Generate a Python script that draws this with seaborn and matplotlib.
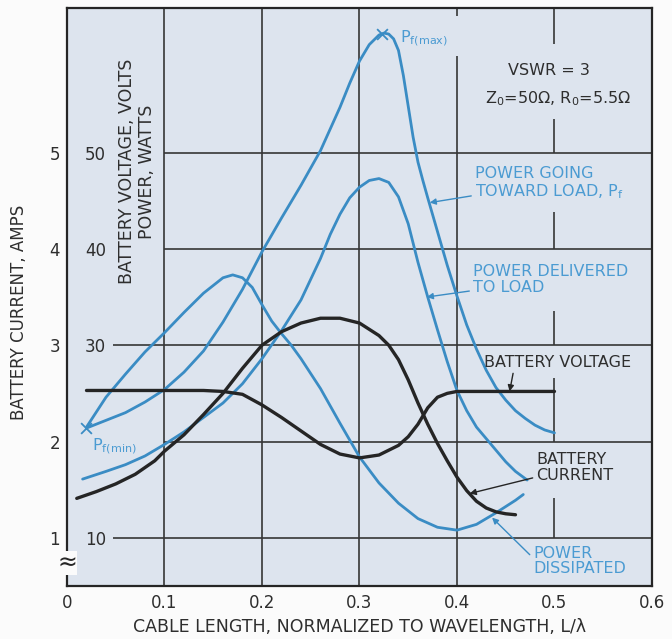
import numpy as np
import pandas as pd
import matplotlib
matplotlib.use("Agg")
import matplotlib.pyplot as plt
import seaborn as sns

# values (x = cable length L/lambda, y = volts / watts)
pf_x = [0.02, 0.04, 0.06, 0.08, 0.10, 0.12, 0.14, 0.16, 0.18, 0.20, 0.22, 0.24, 0.26,
        0.28, 0.29, 0.30, 0.31, 0.32, 0.325, 0.33, 0.335, 0.34, 0.345, 0.35, 0.355,
        0.36, 0.365, 0.37, 0.38, 0.39, 0.40, 0.41, 0.42, 0.43, 0.44, 0.45, 0.46, 0.47,
        0.48, 0.49, 0.50]
pf_y = [21.4, 22.2, 23.0, 24.1, 25.4, 27.2, 29.4, 32.4, 35.8, 39.7, 43.2, 46.6, 50.2,
        54.7, 57.2, 59.5, 61.2, 62.2, 62.4, 62.3, 61.8, 60.6, 58.0, 54.8, 51.6,
        49.0, 47.1, 45.3, 41.8, 38.3, 35.1, 32.1, 29.6, 27.4, 25.6, 24.3, 23.2, 22.4,
        21.7, 21.2, 20.9]

delivered_x = [0.016, 0.04, 0.06, 0.08, 0.10, 0.12, 0.14, 0.16, 0.18, 0.20, 0.22, 0.24,
               0.26, 0.27, 0.28, 0.29, 0.30, 0.31, 0.32, 0.33, 0.34, 0.35, 0.36, 0.37,
               0.38, 0.39, 0.40, 0.41, 0.42, 0.43, 0.44, 0.45, 0.46, 0.472]
delivered_y = [16.1, 16.9, 17.6, 18.5, 19.7, 21.0, 22.5, 24.0, 26.0, 28.6, 31.5, 34.7,
               39.0, 41.5, 43.6, 45.3, 46.4, 47.1, 47.3, 46.9, 45.4, 42.6, 38.6, 35.0,
               31.6, 28.3, 25.3, 23.2, 21.5, 20.3, 19.1, 17.9, 16.9, 16.0]

dissipated_x = [0.02, 0.04, 0.06, 0.08, 0.10, 0.12, 0.14, 0.16, 0.17, 0.18, 0.19, 0.20,
                0.21, 0.22, 0.23, 0.24, 0.26, 0.28, 0.30, 0.32, 0.34, 0.36, 0.38, 0.40,
                0.42, 0.44, 0.46, 0.468]
dissipated_y = [21.5, 24.6, 27.0, 29.3, 31.3, 33.4, 35.4, 37.0, 37.3, 37.0, 36.0, 34.2,
                32.5, 31.2, 30.0, 28.6, 25.5, 21.9, 18.4, 15.7, 13.6, 12.0, 11.1, 10.8,
                11.4, 12.6, 13.9, 14.5]

voltage_x = [0.02, 0.05, 0.10, 0.14, 0.16, 0.18, 0.20, 0.22, 0.24, 0.26, 0.28, 0.30,
             0.32, 0.34, 0.35, 0.36, 0.37, 0.38, 0.39, 0.40, 0.45, 0.50]
voltage_y = [25.3, 25.3, 25.3, 25.3, 25.2, 24.9, 23.8, 22.5, 21.1, 19.7, 18.7, 18.3,
             18.6, 19.6, 20.5, 21.8, 23.5, 24.6, 25.0, 25.2, 25.2, 25.2]

current_x = [0.01, 0.03, 0.05, 0.07, 0.09, 0.10, 0.12, 0.14, 0.16, 0.18, 0.20, 0.22,
             0.24, 0.26, 0.28, 0.30, 0.32, 0.33, 0.34, 0.35, 0.36, 0.37, 0.38, 0.39,
             0.40, 0.41, 0.42, 0.43, 0.44, 0.45, 0.46]
current_y = [14.1, 14.8, 15.6, 16.6, 18.0, 19.0, 20.7, 22.8, 25.0, 27.6, 30.0, 31.4,
             32.3, 32.8, 32.8, 32.3, 31.0, 30.0, 28.5, 26.4, 24.0, 21.8, 19.8, 18.0,
             16.3, 14.9, 13.8, 13.1, 12.7, 12.5, 12.4]

pf_mark_x = [0.02, 0.323]
pf_mark_y = [21.4, 62.3]

x_ticks = [0, 0.1, 0.2, 0.3, 0.4, 0.5, 0.6]
x_tick_labels = ["0", "0.1", "0.2", "0.3", "0.4", "0.5", "0.6"]
power_ticks = [10, 20, 30, 40, 50]
power_tick_labels = ["10", "", "30", "40", "50"]
amp_ticks = [1, 2, 3, 4, 5]
amp_tick_labels = ["1", "2", "3", "4", "5"]

BLUE = "#3a8cc4"
BLUE_TEXT = "#4b9bd2"
DARK = "#252525"
GRID = "#363636"
PANEL = "#dde4ee"
TEXT = "#2e2e2e"
NOTE_SIZE = 11.5


def main() -> None:
    sns.set_style("white")
    plt.rcParams["font.family"] = ["DejaVu Sans"]

    fig = plt.figure(figsize=(6.72, 6.39), dpi=100, facecolor="#fbfbfb")
    ax = fig.add_axes([0.0997, 0.0829, 0.8705, 0.9045])
    ax.set_facecolor(PANEL)
    ax.set_xlim(0, 0.6)
    ax.set_ylim(5, 65)

    # grid, drawn by hand since several lines stop short around the labels
    ax.vlines([0.1, 0.2, 0.3], 5, 65, color=GRID, lw=1.2, zorder=1)
    ax.vlines([0.4, 0.4], [5, 64.2], [60.0, 65], color=GRID, lw=1.2, zorder=1)
    ax.vlines([0.5] * 6, [61.3, 50, 40, 30, 20, 10], [65, 53.5, 43.8, 33.6, 26.6, 14.1],
              color=GRID, lw=1.2, zorder=1)
    ax.hlines([10, 30], 0.047, 0.6, color=GRID, lw=1.2, zorder=1)
    ax.hlines([20, 40, 50], 0.1, 0.6, color=GRID, lw=1.2, zorder=1)

    curves = [
        (pf_x, pf_y, BLUE, 2.0),
        (delivered_x, delivered_y, BLUE, 2.0),
        (dissipated_x, dissipated_y, BLUE, 2.0),
        (voltage_x, voltage_y, DARK, 2.4),
        (current_x, current_y, DARK, 2.4),
    ]
    for xs, ys, color, lw in curves:
        sns.lineplot(x=xs, y=ys, color=color, lw=lw, estimator=None, ax=ax, zorder=3)

    sns.scatterplot(x=pf_mark_x, y=pf_mark_y, marker="x", s=60, color=BLUE,
                    linewidth=1.3, ax=ax, zorder=4)

    for side in ["left", "right", "top", "bottom"]:
        ax.spines[side].set_color(DARK)
        ax.spines[side].set_linewidth(1.6)

    ax.set_xticks(x_ticks, labels=x_tick_labels)
    ax.tick_params(axis="x", length=0, pad=6, labelsize=12, labelcolor=TEXT)
    ax.set_yticks(power_ticks, labels=power_tick_labels)
    ax.tick_params(axis="y", direction="in", length=7, width=1.3, color=DARK,
                   pad=-28, labelsize=12, labelcolor=TEXT)
    ax.set_xlabel("CABLE LENGTH, NORMALIZED TO WAVELENGTH, L/\u03bb", fontsize=12.5,
                  color=TEXT, labelpad=4)
    ax.set_ylabel("")

    amps = ax.secondary_yaxis("left", functions=(lambda v: v / 10, lambda a: a * 10))
    amps.set_yticks(amp_ticks, labels=amp_tick_labels)
    amps.tick_params(length=0, pad=5, labelsize=12, labelcolor=TEXT)
    amps.spines["left"].set_visible(False)
    amps.set_ylabel("BATTERY CURRENT, AMPS", fontsize=12, color=TEXT)
    amps.yaxis.set_label_coords(-0.066, 0.474, transform=ax.transAxes)

    ax.text(0.072, 48, "BATTERY VOLTAGE, VOLTS\nPOWER, WATTS", rotation=90,
            ha="center", va="center", multialignment="center", fontsize=12.5,
            color=TEXT, linespacing=1.1)

    ax.text(0.494, 58.5, "VSWR = 3", ha="center", va="center", fontsize=NOTE_SIZE,
            color=TEXT)
    ax.text(0.504, 55.6, "Z$_0$=50\u03a9, R$_0$=5.5\u03a9", ha="center",
            va="center", fontsize=NOTE_SIZE, color=TEXT)
    ax.text(0.342, 61.9, "P$_{\\mathrm{f(max)}}$", ha="left", va="center",
            fontsize=NOTE_SIZE, color=BLUE_TEXT)
    ax.text(0.026, 19.5, "P$_{\\mathrm{f(min)}}$", ha="left", va="center",
            fontsize=NOTE_SIZE, color=BLUE_TEXT)

    arrow_blue = dict(arrowstyle="-|>", color=BLUE, lw=1.0, mutation_scale=9,
                      shrinkA=0, shrinkB=0)
    arrow_dark = dict(arrowstyle="-|>", color=DARK, lw=1.0, mutation_scale=9,
                      shrinkA=0, shrinkB=0)
    ax.annotate("POWER GOING\nTOWARD LOAD, P$_\\mathrm{f}$", xy=(0.372, 44.8),
                xytext=(0.418, 46.8), ha="left", va="center", fontsize=NOTE_SIZE,
                color=BLUE_TEXT, linespacing=1.05, arrowprops=arrow_blue)
    ax.annotate("POWER DELIVERED\nTO LOAD", xy=(0.369, 35.0), xytext=(0.416, 36.8),
                ha="left", va="center", fontsize=NOTE_SIZE, color=BLUE_TEXT,
                linespacing=1.05, arrowprops=arrow_blue)
    ax.annotate("BATTERY VOLTAGE", xy=(0.454, 25.2), xytext=(0.428, 28.2),
                ha="left", va="center", fontsize=NOTE_SIZE, color=TEXT,
                arrowprops=dict(arrow_dark, relpos=(0.2, 0.0)))
    ax.annotate("BATTERY\nCURRENT", xy=(0.413, 14.6), xytext=(0.481, 17.3),
                ha="left", va="center", fontsize=NOTE_SIZE, color=TEXT,
                linespacing=1.05, arrowprops=arrow_dark)
    ax.annotate("POWER\nDISSIPATED", xy=(0.436, 12.1), xytext=(0.478, 7.6),
                ha="left", va="center", fontsize=NOTE_SIZE, color=BLUE_TEXT,
                linespacing=1.05, arrowprops=dict(arrow_blue, relpos=(0.0, 0.6)))

    # axis break mark on the left spine
    ax.text(0.0, 7.4, "\u2248", ha="center", va="center", fontsize=17, color=DARK,
            clip_on=False, zorder=5,
            bbox=dict(boxstyle="square,pad=0.0", fc="#fbfbfb", ec="none"))

    fig.savefig("out.png", dpi=100, facecolor=fig.get_facecolor())
    plt.close(fig)


if __name__ == "__main__":
    main()
